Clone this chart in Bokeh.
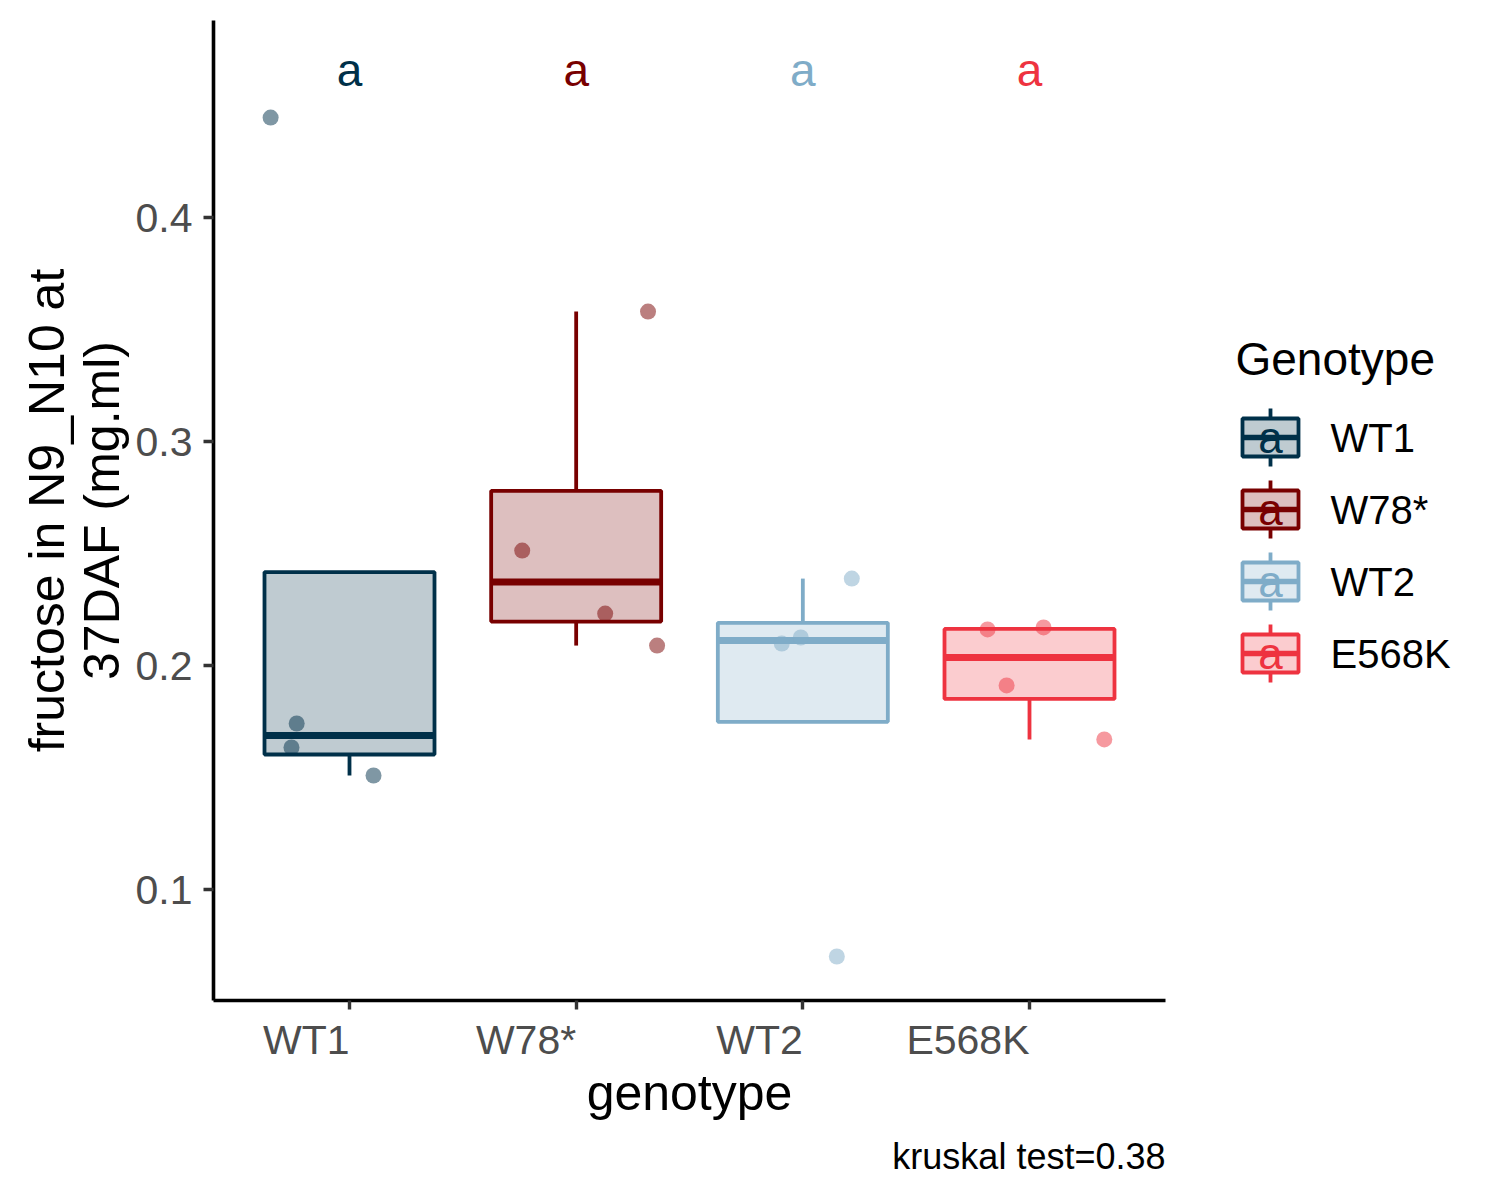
import numpy as np
from bokeh.plotting import figure
from bokeh.models import Range1d, FixedTicker
from bokeh.layouts import gridplot
from bokeh.embed import file_html
from bokeh.resources import INLINE
from bokeh.core.properties import value

# ---------------- data ----------------
genotypes = ["WT1", "W78*", "WT2", "E568K"]
colors = ["#003049", "#780000", "#7FACC8", "#EE3340"]
wt1_vals = [0.4446, 0.1741, 0.1634, 0.1509]
w78_vals = [0.3580, 0.2513, 0.2232, 0.2089]
wt2_vals = [0.2388, 0.2125, 0.2098, 0.0701]
e568k_vals = [0.2161, 0.2170, 0.1911, 0.1670]
wt1_jit = [-0.348, -0.233, -0.256, 0.106]
w78_jit = [0.317, -0.238, 0.128, 0.357]
wt2_jit = [0.216, -0.009, -0.093, 0.150]
e568k_jit = [-0.185, 0.062, -0.101, 0.330]
group_letters = ["a", "a", "a", "a"]
letter_y = 0.466
y_ticks = [0.1, 0.2, 0.3, 0.4]
y_title = ["fructose in N9_N10 at", "37DAF (mg.ml)"]
x_title = "genotype"
legend_title = "Genotype"
caption = "kruskal test=0.38"

values = [wt1_vals, w78_vals, wt2_vals, e568k_vals]
jitters = [wt1_jit, w78_jit, wt2_jit, e568k_jit]

FONT = "Liberation Sans"
X0, X1 = 0.4, 4.6
Y0, Y1 = 0.05045, 0.48795
BOXW = 0.75

# layout (page pixels)
TOP, FRAME_H, BOT = 20, 980, 12
LEFT_W, BORDER_L, FRAME_W, BORDER_R = 131, 82, 952, 55
LEG_W = 270
MAIN_H = TOP + FRAME_H + BOT
BOTTOM_H = 178
MAIN_W = BORDER_L + FRAME_W + BORDER_R
LEG_X = LEFT_W + MAIN_W


def blank(fig):
    fig.xgrid.visible = False
    fig.ygrid.visible = False
    fig.outline_line_color = None
    fig.background_fill_color = "white"
    fig.border_fill_color = "white"
    return fig


xr = Range1d(X0, X1)
p = blank(figure(width=MAIN_W, height=MAIN_H, x_range=xr, y_range=Range1d(Y0, Y1),
                 output_backend="svg", toolbar_location=None,
                 min_border_left=BORDER_L, min_border_right=BORDER_R,
                 min_border_top=TOP, min_border_bottom=BOT))

for ax in (p.xaxis[0], p.yaxis[0]):
    ax.axis_line_color = "black"
    ax.axis_line_width = 3.6
    ax.major_tick_line_color = "#333333"
    ax.major_tick_line_width = 3.4
    ax.major_tick_in = 0
    ax.minor_tick_line_color = None
    ax.major_label_text_font = FONT
    ax.major_label_text_color = "#4D4D4D"
    ax.major_label_text_font_size = "41px"

p.yaxis.ticker = FixedTicker(ticks=y_ticks)
p.yaxis.major_tick_out = 10
p.yaxis.major_label_standoff = 11
p.xaxis.ticker = FixedTicker(ticks=[1, 2, 3, 4])
p.xaxis.major_tick_out = 9
p.xaxis.major_label_standoff = 0
p.xaxis.major_label_text_font_size = "0px"
p.xaxis.major_label_overrides = {1: "", 2: "", 3: "", 4: ""}

# ---------------- boxplots (ggplot2-style statistics) ----------------
for i, (vals, col) in enumerate(zip(values, colors)):
    v = np.array(vals)
    q1, med, q3 = np.quantile(v, [0.25, 0.5, 0.75])
    iqr = q3 - q1
    keep = v[(v >= q1 - 1.5 * iqr) & (v <= q3 + 1.5 * iqr)]
    lo = min(q1, keep.min())
    hi = max(q3, keep.max())
    xc = i + 1
    p.segment(x0=[xc, xc], y0=[q3, q1], x1=[xc, xc], y1=[hi, lo],
              line_color=col, line_width=3.8)
    p.quad(left=[xc - BOXW / 2], right=[xc + BOXW / 2], bottom=[q1], top=[q3],
           fill_color=col, fill_alpha=0.25, line_color=col, line_width=3.8)
    p.segment(x0=[xc - BOXW / 2], y0=[med], x1=[xc + BOXW / 2], y1=[med],
              line_color=col, line_width=7)

# ---------------- jittered points ----------------
for i, (vals, jit, col) in enumerate(zip(values, jitters, colors)):
    p.scatter(x=[i + 1 + j for j in jit], y=vals, size=16,
              fill_color=col, fill_alpha=0.5, line_color=None)

# ---------------- group letters ----------------
p.text(x=[1, 2, 3, 4], y=[letter_y] * 4, text=group_letters, text_color=colors,
       text_align="center", text_baseline="middle",
       text_font=value(FONT), text_font_size="46px")

# ---------------- left panel: y axis title ----------------
yt = blank(figure(width=LEFT_W, height=MAIN_H, x_range=Range1d(0, LEFT_W),
                  y_range=Range1d(TOP + FRAME_H, TOP), output_backend="svg",
                  toolbar_location=None, x_axis_location=None, y_axis_location=None,
                  min_border_left=0, min_border_right=0,
                  min_border_top=TOP, min_border_bottom=BOT))
ymid = TOP + FRAME_H / 2
yt.text(x=[46, 101], y=[ymid, ymid], text=y_title, angle=np.pi / 2,
        text_align="center", text_baseline="middle",
        text_font=value(FONT), text_font_size="50px", text_color="black")

# ---------------- bottom panel: x tick labels, x title, caption ----------------
bt = blank(figure(width=MAIN_W, height=BOTTOM_H, x_range=xr,
                  y_range=Range1d(MAIN_H + BOTTOM_H, MAIN_H), output_backend="svg",
                  toolbar_location=None, x_axis_location=None, y_axis_location=None,
                  min_border_left=BORDER_L, min_border_right=BORDER_R,
                  min_border_top=0, min_border_bottom=0))
bt.text(x=[1, 2, 3, 4], y=[1039] * 4, text=genotypes, text_align="right",
        text_baseline="middle", text_font=value(FONT), text_font_size="41px",
        text_color="#4D4D4D")
bt.text(x=[(X0 + X1) / 2], y=[1092], text=[x_title], text_align="center",
        text_baseline="middle", text_font=value(FONT), text_font_size="50px",
        text_color="black")
bt.text(x=[X1], y=[1156], text=[caption], text_align="right",
        text_baseline="middle", text_font=value(FONT), text_font_size="36px",
        text_color="black")

# ---------------- legend panel ----------------
lg = blank(figure(width=LEG_W, height=MAIN_H, x_range=Range1d(LEG_X, LEG_X + LEG_W),
                  y_range=Range1d(TOP + FRAME_H, TOP), output_backend="svg",
                  toolbar_location=None, x_axis_location=None, y_axis_location=None,
                  min_border_left=0, min_border_right=0,
                  min_border_top=TOP, min_border_bottom=BOT))
lg.text(x=[1235], y=[358], text=[legend_title], text_align="left", text_baseline="middle",
        text_font=value(FONT), text_font_size="46px", text_color="black")
for i, (g, col) in enumerate(zip(genotypes, colors)):
    cy = 437 + 72 * i
    lg.segment(x0=[1270, 1270], y0=[cy - 29, cy + 19], x1=[1270, 1270], y1=[cy - 19, cy + 29],
               line_color=col, line_width=3.8)
    lg.quad(left=[1242], right=[1298], top=[cy - 19], bottom=[cy + 19],
            fill_color=col, fill_alpha=0.25, line_color=col, line_width=3.8)
    lg.segment(x0=[1242], y0=[cy], x1=[1298], y1=[cy], line_color=col, line_width=5.5)
    lg.text(x=[1270], y=[cy], text=[group_letters[i]], text_align="center", text_baseline="middle",
            text_font=value(FONT), text_font_size="44px", text_color=col)
    lg.text(x=[1330], y=[cy], text=[g], text_align="left", text_baseline="middle",
            text_font=value(FONT), text_font_size="40px", text_color="black")

grid = gridplot([[yt, p, lg], [None, bt, None]], toolbar_location=None)
open("out.html", "w").write(file_html(grid, INLINE))
